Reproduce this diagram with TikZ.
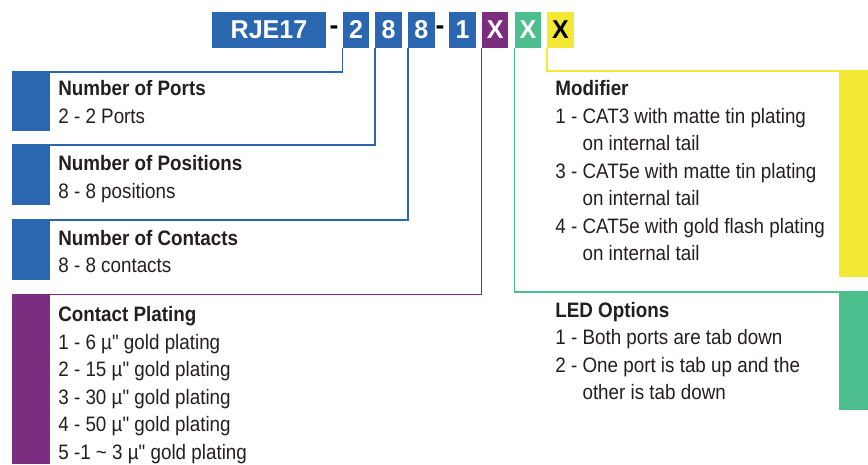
\documentclass[tikz,border=0pt]{standalone}
\usepackage{fontspec}
\setmainfont{Liberation Sans}[FakeStretch=0.9, Ligatures=TeXOff]
\newfontfamily\codefont{Liberation Sans}[FakeStretch=0.97]
\usetikzlibrary{positioning}
\definecolor{pnblue}{RGB}{43,103,176}
\definecolor{pnpurple}{RGB}{123,45,127}
\definecolor{pngreen}{RGB}{77,191,143}
\definecolor{pnyellow}{RGB}{243,233,50}
\definecolor{pntext}{RGB}{35,31,32}
\newcommand\pnindent{\phantom{1 - }}

\begin{document}
\begin{tikzpicture}[
  x=0.02cm, y=-0.02cm,
  node distance=0.11cm,
  code/.style={
    rectangle, fill=#1, text=white, inner sep=0pt,
    minimum width=0.53cm, minimum height=0.71cm,
    font=\codefont\bfseries\fontsize{14.7}{16}\selectfont
  },
  hyph/.style={inner sep=0pt, text=black, font=\codefont\bfseries\fontsize{15.5}{16}\selectfont},
  strip/.style={rectangle, fill=#1, inner sep=0pt, minimum width=0.76cm, anchor=north west},
  desc/.style={anchor=base west, align=left, inner sep=0pt, text=pntext,
    font=\fontsize{11.9}{15.65}\selectfont},
  lead/.style={draw=#1, line width=0.85pt}
]
\useasboundingbox (0,0) rectangle (868,464);

% part number
\node[code=pnblue, minimum width=2.28cm] (rje) at (269,29.75) {RJE17};
\node[code=pnblue] (d2) at (356,29.75) {2};
\node[code=pnblue, right=of d2] (d8a) {8};
\node[code=pnblue, right=of d8a] (d8b) {8};
\node[code=pnblue] (d1) at (462.5,29.75) {1};
\node[code=pnpurple, right=of d1] (xp) {X};
\node[code=pngreen, right=of xp] (xg) {X};
\node[code=pnyellow, text=black, right=of xg] (xy) {X};
\node[hyph] (h1) at (334,29.75) {-};
\node[hyph] (h2) at (440,29.75) {-};

% colour strips
\node[strip=pnblue, minimum height=1.18cm] (sports) at (12,72) {};
\node[strip=pnblue, minimum height=1.2cm] (spos) at (12,145) {};
\node[strip=pnblue, minimum height=1.2cm] (scon) at (12,220) {};
\node[strip=pnpurple, minimum height=3.39cm] (splat) at (12,294.5) {};
\node[strip=pnyellow, anchor=north east, minimum width=0.58cm, minimum height=4.12cm] (smod) at (868,71) {};
\node[strip=pngreen, anchor=north east, minimum width=0.58cm, minimum height=2.36cm] (sled) at (868,292) {};

% leads
\draw[lead=pnblue] (d2.south west) |- (sports.north west);
\draw[lead=pnblue] (d8a.south west) |- (spos.north west);
\draw[lead=pnblue] (d8b.south west) |- (scon.north west);
\draw[lead=pnpurple] (xp.south west) |- (splat.north west);
\draw[lead=pngreen] (xg.south west) |- (sled.north east);
\draw[lead=pnyellow] (xy.south west) |- (smod.north east);

% descriptions (anchored at the last baseline)
\node[desc] (tports) at (58,123.3) {\textbf{Number of Ports}\\2 - 2 Ports};
\node[desc] (tpos) at (58,198) {\textbf{Number of Positions}\\8 - 8 positions};
\node[desc] (tcon) at (58,272.5) {\textbf{Number of Contacts}\\8 - 8 contacts};
\node[desc] (tplat) at (58,459.3) {\textbf{Contact Plating}\\
  1 - 6 µ" gold plating\\
  2 - 15 µ" gold plating\\
  3 - 30 µ" gold plating\\
  4 - 50 µ" gold plating\\
  5 -1 \textasciitilde{} 3 µ" gold plating};
\node[desc] (tmod) at (555,260.6) {\textbf{Modifier}\\
  1 - CAT3 with matte tin plating\\
  \pnindent on internal tail\\
  3 - CAT5e with matte tin plating\\
  \pnindent on internal tail\\
  4 - CAT5e with gold flash plating\\
  \pnindent on internal tail};
\node[desc] (tled) at (555,399.5) {\textbf{LED Options}\\
  1 - Both ports are tab down\\
  2 - One port is tab up and the\\
  \pnindent other is tab down};
\end{tikzpicture}
\end{document}
